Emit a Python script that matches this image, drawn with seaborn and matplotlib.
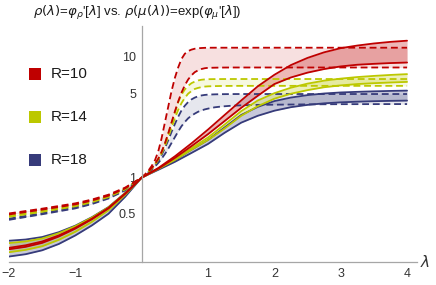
import numpy as np
import pandas as pd
import matplotlib
matplotlib.use("Agg")
import matplotlib.pyplot as plt
import matplotlib.ticker as mticker
from matplotlib.patches import Rectangle
import seaborn as sns

# lambda grid for the solid curves rho(lambda) = phi_rho'[lambda]
x_solid = [-2, -1.75, -1.5, -1.25, -1, -0.75, -0.5, -0.25, 0,
           0.25, 0.5, 0.75, 1, 1.25, 1.5, 1.75, 2, 2.25, 2.5, 2.75, 3, 3.25, 3.5, 3.75, 4]

# solid: upper / lower edge of each band
r10_solid_hi = [0.262, 0.275, 0.296, 0.332, 0.384, 0.457, 0.561, 0.738, 1,
                1.2, 1.5, 1.92, 2.5, 3.3, 4.35, 5.7, 7.1, 8.55, 9.8, 10.9, 11.8, 12.4, 12.9, 13.3, 13.6]
r10_solid_lo = [0.255, 0.267, 0.288, 0.325, 0.378, 0.452, 0.556, 0.734, 1,
                1.185, 1.455, 1.82, 2.29, 2.94, 3.78, 4.76, 5.95, 6.75, 7.4, 7.92, 8.33, 8.6, 8.75, 8.88, 8.97]
r14_solid_hi = [0.287, 0.296, 0.313, 0.346, 0.396, 0.467, 0.567, 0.743, 1,
                1.19, 1.43, 1.75, 2.15, 2.75, 3.55, 4.35, 5.0, 5.55, 6.0, 6.35, 6.6, 6.8, 6.95, 7.08, 7.19]
r14_solid_lo = [0.241, 0.252, 0.270, 0.305, 0.356, 0.430, 0.536, 0.719, 1,
                1.18, 1.4, 1.7, 2.05, 2.55, 3.25, 3.9, 4.5, 4.95, 5.3, 5.6, 5.8, 5.95, 6.05, 6.13, 6.2]
r18_solid_hi = [0.300, 0.307, 0.322, 0.353, 0.400, 0.470, 0.570, 0.745, 1,
                1.18, 1.4, 1.7, 2.05, 2.6, 3.3, 3.85, 4.3, 4.6, 4.82, 4.97, 5.07, 5.13, 5.18, 5.22, 5.25]
r18_solid_lo = [0.222, 0.232, 0.250, 0.282, 0.332, 0.402, 0.502, 0.693, 1,
                1.16, 1.35, 1.6, 1.9, 2.35, 2.85, 3.25, 3.58, 3.83, 4.0, 4.12, 4.2, 4.25, 4.29, 4.32, 4.34]

# lambda grid for the dashed curves exp(phi_mu'[lambda])
x_dash = [-2, -1.5, -1, -0.75, -0.5, -0.25, 0,
          0.05, 0.1, 0.15, 0.2, 0.25, 0.3, 0.35, 0.4, 0.45, 0.5,
          0.55, 0.6, 0.65, 0.7, 0.75, 0.8, 0.85, 0.9, 0.95, 1.0,
          1.1, 1.2, 1.35, 1.5, 1.75, 2, 2.5, 3, 3.5, 4]

r10_dash_hi = [0.505, 0.553, 0.612, 0.658, 0.722, 0.826, 1,
               1.062, 1.139, 1.246, 1.391, 1.649, 2.117, 2.858, 3.857, 5.207, 6.686,
               8.166, 9.6, 10.6, 11.15, 11.47, 11.67, 11.78, 11.83, 11.87, 11.89,
               11.9, 11.9, 11.9, 11.9, 11.9, 11.9, 11.9, 11.9, 11.9, 11.9]
r10_dash_lo = [0.495, 0.543, 0.600, 0.646, 0.708, 0.814, 1,
               1.051, 1.116, 1.197, 1.297, 1.433, 1.632, 1.916, 2.316, 2.858, 3.525,
               4.263, 5.053, 5.812, 6.488, 7.029, 7.463, 7.729, 7.925, 8.045, 8.109,
               8.13, 8.15, 8.16, 8.16, 8.16, 8.16, 8.16, 8.16, 8.16, 8.16]
r14_dash_hi = [0.483, 0.531, 0.591, 0.638, 0.704, 0.812, 1,
               1.051, 1.116, 1.197, 1.297, 1.433, 1.632, 1.916, 2.316, 2.829, 3.421,
               4.221, 4.855, 5.366, 5.755, 6.05, 6.234, 6.373, 6.456, 6.502, 6.528,
               6.54, 6.545, 6.55, 6.55, 6.55, 6.55, 6.55, 6.55, 6.55, 6.55]
r14_dash_lo = [0.473, 0.521, 0.579, 0.626, 0.690, 0.798, 1,
               1.051, 1.111, 1.185, 1.278, 1.405, 1.584, 1.822, 2.16, 2.586, 3.096,
               3.633, 4.137, 4.572, 4.953, 5.207, 5.419, 5.529, 5.613, 5.669, 5.697,
               5.72, 5.735, 5.745, 5.75, 5.75, 5.75, 5.75, 5.75, 5.75, 5.75]
r18_dash_hi = [0.457, 0.507, 0.568, 0.616, 0.685, 0.798, 1,
               1.051, 1.111, 1.179, 1.265, 1.377, 1.537, 1.751, 2.034, 2.387, 2.773,
               3.19, 3.597, 3.935, 4.221, 4.437, 4.595, 4.711, 4.787, 4.835, 4.864,
               4.89, 4.905, 4.915, 4.92, 4.92, 4.92, 4.92, 4.92, 4.92, 4.92]
r18_dash_lo = [0.447, 0.497, 0.556, 0.604, 0.671, 0.782, 1,
               1.046, 1.1, 1.162, 1.234, 1.323, 1.433, 1.568, 1.733, 1.935, 2.16,
               2.411, 2.664, 2.886, 3.096, 3.254, 3.387, 3.508, 3.597, 3.669, 3.725,
               3.819, 3.877, 3.935, 3.967, 3.999, 4.015, 4.039, 4.055, 4.059, 4.063]

labels = ["R=10", "R=14", "R=18"]
colors = ["#bf0000", "#bcc800", "#363b7a"]

solid = {"R=10": (r10_solid_hi, r10_solid_lo),
         "R=14": (r14_solid_hi, r14_solid_lo),
         "R=18": (r18_solid_hi, r18_solid_lo)}
dashed = {"R=10": (r10_dash_hi, r10_dash_lo),
          "R=14": (r14_dash_hi, r14_dash_lo),
          "R=18": (r18_dash_hi, r18_dash_lo)}

sns.set_style("white")
plt.rcParams['font.family'] = ['Liberation Sans', 'DejaVu Sans']
plt.rcParams['mathtext.fontset'] = 'dejavusans'

fig = plt.figure(figsize=(4.36, 2.85), dpi=100)
ax = fig.add_axes([9 / 436, 23 / 285, 408 / 436, 236 / 285])
ax.set_yscale('log')
ax.set_xlim(-2, 4.15)
ax.set_ylim(0.2, 18)

# bands
for lab, c in zip(labels, colors):
    hi, lo = dashed[lab]
    ax.fill_between(x_dash, lo, hi, color=c, alpha=0.12, lw=0)
    hi, lo = solid[lab]
    ax.fill_between(x_solid, lo, hi, color=c, alpha=0.28, lw=0)

# curves
for lab, c in zip(labels[::-1], colors[::-1]):
    for y in dashed[lab]:
        sns.lineplot(x=x_dash, y=y, ax=ax, color=c, lw=1.3)
        ax.lines[-1].set_linestyle((0, (3.8, 2.1)))
for lab, c in zip(labels[::-1], colors[::-1]):
    for y in solid[lab]:
        sns.lineplot(x=x_solid, y=y, ax=ax, color=c, lw=1.3)

# Mathematica-like axes
ax.spines['left'].set_position(('data', 0))
ax.spines['top'].set_visible(False)
ax.spines['right'].set_visible(False)
for s in ['left', 'bottom']:
    ax.spines[s].set_color('#a6a6a6')
    ax.spines[s].set_linewidth(0.9)

ax.xaxis.set_major_locator(mticker.FixedLocator([-2, -1, 1, 2, 3, 4]))
ax.xaxis.set_minor_locator(mticker.FixedLocator(
    [v / 5 for v in range(-10, 21) if v % 5 != 0]))
ax.xaxis.set_major_formatter(mticker.FuncFormatter(
    lambda v, p: ("\u2212%d" % -v) if v < 0 else "%d" % v))
ax.yaxis.set_major_locator(mticker.FixedLocator([0.5, 1, 5, 10]))
ax.yaxis.set_minor_locator(mticker.FixedLocator(
    [0.2, 0.3, 0.4, 0.6, 0.7, 0.8, 0.9, 2, 3, 4, 6, 7, 8, 9]))
ax.yaxis.set_major_formatter(mticker.FixedFormatter(["0.5", "1", "5", "10"]))
ax.yaxis.set_minor_formatter(mticker.NullFormatter())
ax.tick_params(which='both', direction='in', color='#a6a6a6', width=0.8,
               labelsize=9, labelcolor='#333333')
ax.tick_params(which='major', length=4, pad=4)
ax.tick_params(which='minor', length=2.3)
ax.set_xlabel("")
ax.set_ylabel("")

fig.text(425 / 436, 1 - 262 / 285, r"$\lambda$", fontsize=11, ha='center', va='center',
         color='#333333')

fig.text(33 / 436, 1 - 13 / 285,
         r"$\rho(\lambda)$=$\varphi_\rho$'[$\lambda$] vs. $\rho(\mu(\lambda))$=exp($\varphi_\mu$'[$\lambda$])",
         fontsize=9.5, ha='left', va='center', color='#1a1a1a')

# legend squares
for lab, c, yc in zip(labels, colors, [74, 117, 160]):
    fig.add_artist(Rectangle((29 / 436, 1 - (yc + 6) / 285), 12 / 436, 12 / 285,
                             transform=fig.transFigure, color=c, lw=0))
    fig.text(51 / 436, 1 - yc / 285, lab, fontsize=11, ha='left', va='center',
             color='#1a1a1a')

fig.savefig("out.png", dpi=100)
